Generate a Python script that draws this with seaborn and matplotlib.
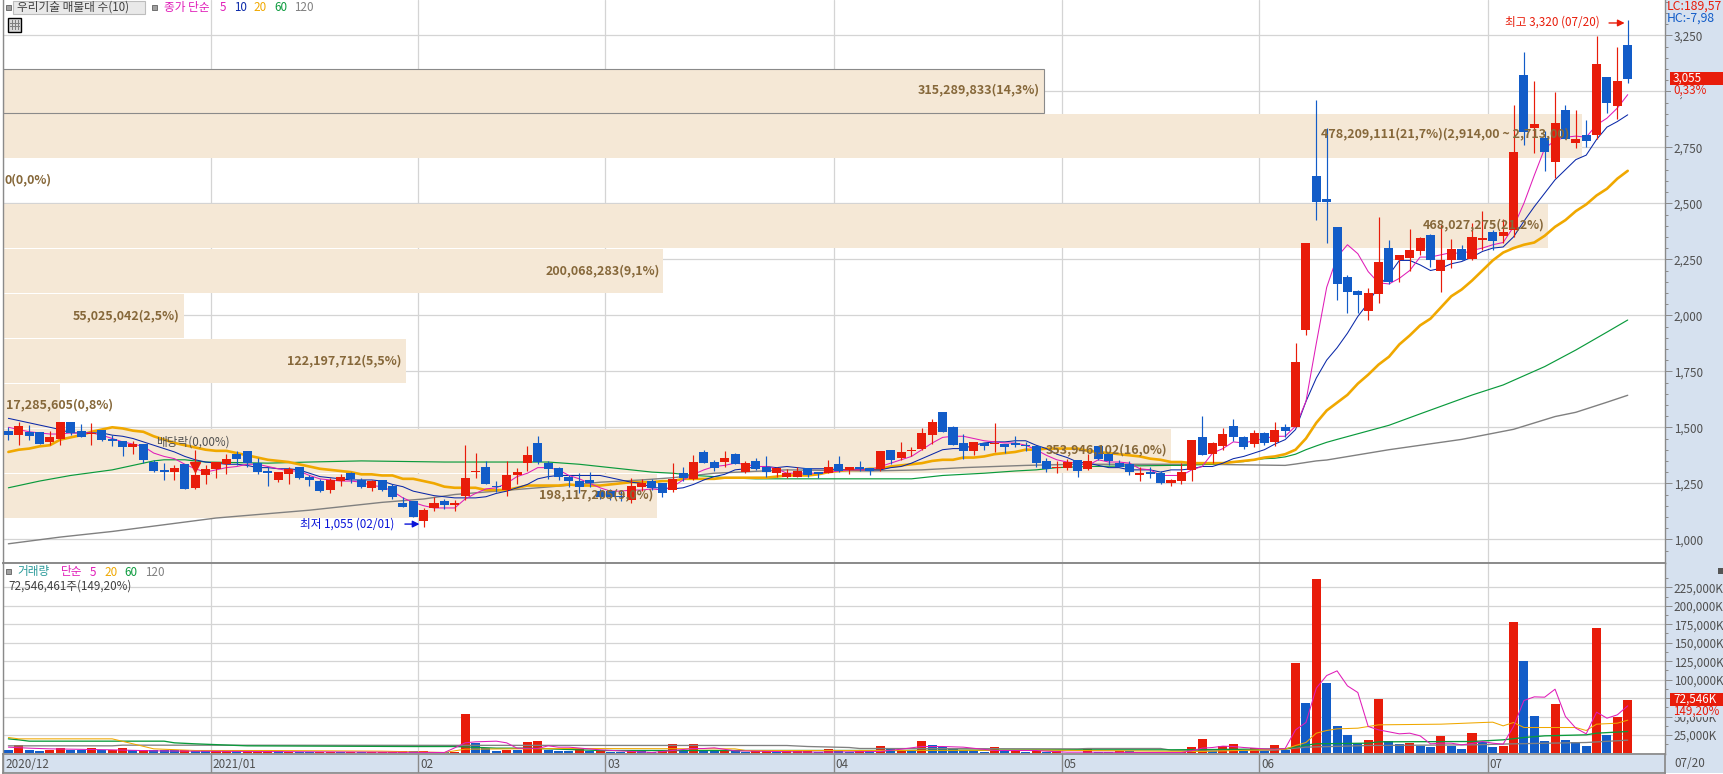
import numpy as np
import matplotlib
matplotlib.use("Agg")
import matplotlib.pyplot as plt
from matplotlib.patches import Rectangle
from matplotlib.transforms import blended_transform_factory
import seaborn as sns

# daily candles, 2020/12 ~ 07/20
open_p = [1485,1465,1480,1480,1435,1450,1525,1485,1470,1490,
          1450,1440,1410,1425,1345,1310,1300,1335,1230,1285,
          1315,1335,1380,1395,1340,1305,1265,1290,1325,1280,
          1260,1220,1260,1295,1265,1230,1265,1240,1160,1170,
          1080,1140,1170,1155,1195,1300,1325,1240,1220,1285,
          1340,1430,1340,1320,1280,1260,1265,1215,1215,1195,
          1175,1235,1260,1250,1220,1295,1270,1390,1345,1345,
          1380,1300,1350,1325,1295,1280,1280,1320,1300,1295,
          1335,1310,1325,1320,1315,1400,1365,1395,1405,1465,
          1570,1500,1430,1395,1430,1425,1425,1430,1420,1415,
          1350,1320,1320,1355,1315,1415,1380,1340,1335,1285,
          1300,1295,1250,1260,1310,1455,1380,1415,1505,1455,
          1425,1475,1435,1500,1500,1935,2620,2520,2395,2170,
          2110,2020,2095,2300,2245,2255,2285,2360,2200,2245,
          2295,2250,2335,2370,2355,2380,3075,2835,2790,2685,
          2915,2770,2805,2805,3065,2935,3205]
high_p = [1500,1525,1510,1480,1485,1525,1525,1515,1520,1490,
          1465,1440,1440,1425,1355,1340,1330,1335,1400,1330,
          1345,1380,1395,1395,1365,1325,1300,1325,1325,1285,
          1270,1275,1290,1300,1275,1265,1265,1245,1190,1170,
          1140,1190,1180,1175,1420,1385,1350,1260,1350,1320,
          1415,1460,1350,1325,1285,1295,1300,1225,1225,1215,
          1275,1270,1270,1250,1340,1325,1375,1400,1355,1395,
          1385,1350,1365,1370,1325,1315,1325,1320,1300,1355,
          1370,1325,1350,1320,1395,1400,1435,1410,1495,1535,
          1570,1505,1470,1435,1430,1520,1425,1460,1435,1415,
          1365,1350,1360,1355,1380,1415,1380,1355,1350,1325,
          1325,1305,1270,1340,1445,1550,1435,1495,1535,1460,
          1490,1480,1525,1515,1875,2325,2960,2835,2395,2180,
          2115,2120,2440,2335,2270,2385,2350,2365,2405,2340,
          2315,2410,2465,2380,2430,2940,3175,3045,2825,2995,
          2940,2915,2870,3245,3065,3200,3320]
low_p = [1445,1420,1445,1425,1420,1420,1465,1455,1420,1440,
         1415,1370,1380,1340,1300,1265,1265,1225,1225,1245,
         1275,1290,1330,1325,1290,1240,1255,1245,1270,1240,
         1210,1205,1240,1250,1230,1215,1215,1180,1145,1100,
         1055,1125,1135,1125,1175,1275,1245,1210,1195,1245,
         1305,1335,1270,1265,1235,1205,1235,1180,1175,1170,
         1160,1215,1220,1190,1210,1260,1265,1340,1305,1325,
         1335,1295,1310,1280,1280,1275,1280,1280,1275,1295,
         1300,1290,1305,1285,1305,1335,1355,1370,1400,1425,
         1480,1420,1360,1375,1400,1390,1385,1410,1395,1325,
         1300,1295,1310,1280,1310,1355,1330,1325,1285,1260,
         1275,1245,1240,1245,1260,1375,1340,1400,1440,1405,
         1410,1420,1415,1455,1500,1910,2425,2325,2070,2010,
         2010,1980,2055,2140,2150,2200,2270,2215,2105,2210,
         2245,2245,2290,2290,2325,2350,2760,2725,2645,2615,
         2785,2745,2750,2785,2905,2875,3035]
close_p = [1465,1505,1460,1425,1455,1525,1475,1455,1475,1445,
           1440,1410,1425,1355,1305,1300,1320,1225,1285,1315,
           1345,1360,1360,1340,1300,1295,1300,1315,1275,1265,
           1215,1265,1280,1270,1235,1260,1220,1190,1145,1100,
           1130,1160,1155,1160,1275,1305,1245,1235,1285,1300,
           1375,1345,1315,1280,1260,1235,1250,1190,1190,1190,
           1240,1250,1230,1205,1270,1275,1345,1340,1320,1365,
           1335,1340,1315,1300,1320,1295,1305,1285,1290,1325,
           1305,1325,1315,1305,1395,1355,1390,1400,1475,1525,
           1480,1420,1395,1435,1415,1430,1410,1420,1415,1340,
           1315,1325,1345,1305,1350,1360,1350,1325,1300,1295,
           1290,1250,1265,1300,1445,1375,1430,1470,1455,1410,
           1475,1430,1490,1485,1790,2325,2505,2505,2140,2105,
           2090,2100,2240,2150,2270,2290,2345,2245,2245,2295,
           2245,2350,2345,2330,2370,2730,2820,2855,2730,2860,
           2785,2785,2780,3120,2950,3045,3055]

ma5 = [1500,1490,1480,1475,1470,1470,1475,1475,1475,1465,
       1450,1435,1425,1415,1385,1370,1360,1335,1315,1300,
       1310,1320,1325,1335,1335,1325,1315,1305,1305,1285,
       1270,1265,1260,1260,1255,1240,1235,1215,1185,1165,
       1150,1140,1140,1140,1180,1205,1225,1230,1250,1280,
       1295,1320,1320,1310,1285,1270,1250,1230,1215,1215,
       1220,1220,1225,1220,1235,1265,1290,1310,1325,1330,
       1340,1335,1325,1325,1315,1295,1295,1295,1295,1300,
       1305,1310,1310,1310,1325,1340,1355,1370,1400,1430,
       1455,1460,1460,1450,1440,1435,1430,1430,1420,1400,
       1375,1355,1345,1340,1330,1355,1345,1345,1340,1315,
       1310,1285,1285,1285,1310,1325,1385,1405,1435,1430,
       1440,1450,1460,1460,1505,1615,1875,2125,2260,2315,
       2275,2195,2145,2140,2165,2200,2260,2260,2270,2280,
       2275,2290,2300,2315,2325,2395,2500,2625,2745,2780,
       2795,2800,2795,2850,2880,2925,2985]
ma10 = [1540,1530,1520,1510,1500,1490,1475,1475,1475,1475,
        1465,1460,1450,1435,1420,1405,1390,1370,1355,1345,
        1340,1335,1335,1330,1320,1320,1315,1315,1310,1295,
        1280,1275,1270,1265,1265,1265,1260,1245,1235,1215,
        1205,1195,1190,1185,1185,1185,1190,1205,1215,1230,
        1245,1270,1280,1285,1285,1285,1285,1285,1275,1265,
        1255,1250,1230,1230,1225,1230,1245,1265,1280,1290,
        1310,1315,1325,1325,1320,1325,1320,1315,1315,1315,
        1310,1310,1310,1310,1310,1320,1325,1340,1360,1380,
        1400,1405,1405,1420,1430,1435,1435,1440,1440,1420,
        1405,1380,1365,1345,1340,1330,1320,1320,1310,1310,
        1310,1300,1310,1310,1315,1325,1325,1340,1360,1370,
        1385,1400,1425,1445,1490,1615,1720,1800,1855,1920,
        1995,2055,2130,2180,2245,2245,2225,2200,2210,2230,
        2240,2260,2285,2300,2305,2350,2420,2485,2545,2605,
        2650,2695,2715,2785,2840,2865,2895]
ma20 = [1390,1400,1405,1415,1420,1445,1455,1465,1480,1490,
        1500,1495,1485,1480,1460,1445,1430,1420,1410,1400,
        1395,1395,1385,1375,1365,1355,1350,1345,1335,1325,
        1315,1310,1305,1300,1290,1290,1285,1285,1270,1270,
        1260,1250,1235,1230,1230,1230,1220,1220,1220,1230,
        1240,1240,1240,1240,1245,1240,1240,1240,1245,1250,
        1255,1255,1255,1260,1260,1270,1270,1270,1270,1275,
        1275,1275,1275,1275,1280,1285,1285,1285,1290,1300,
        1305,1310,1310,1315,1315,1325,1330,1335,1340,1350,
        1355,1355,1365,1365,1370,1380,1385,1390,1400,1400,
        1405,1405,1405,1405,1395,1390,1385,1380,1375,1370,
        1360,1355,1345,1345,1340,1340,1340,1340,1345,1350,
        1355,1365,1370,1380,1400,1450,1520,1575,1610,1645,
        1695,1735,1780,1815,1870,1910,1955,1985,2035,2085,
        2115,2155,2200,2245,2280,2300,2315,2325,2355,2395,
        2425,2465,2495,2535,2565,2610,2645]
ma60_idx = [0,3,6,10,13,14,15,17,19,25,29,34,42,47,51,52,55,58,60,62,64,66,68,69,72,75,79,84,87,90,94,
            97,99,101,104,112,113,116,117,118,119,120,121,122,123,124,125,126,127,128,133,136,141,144,148,151,154,156]
ma60 = [1230,1260,1285,1310,1340,1350,1355,1355,1345,1340,1345,1350,1345,1345,1345,1345,1335,1320,1310,1300,1295,1285,1280,1275,1270,1270,1270,1270,1270,1285,1295,
        1305,1310,1320,1325,1330,1330,1335,1340,1345,1347,1355,1360,1362,1368,1380,1400,1417,1433,1446,1509,1560,1644,1689,1771,1845,1925,1979]
ma120_idx = [0,5,10,20,29,36,40,43,47,51,55,57,61,64,68,75,83,88,92,98,103,109,115,123,124,126,127,133,140,145,149,151,154,156]
ma120 = [980,1010,1035,1095,1130,1165,1180,1200,1215,1230,1245,1255,1265,1275,1295,1310,1305,1310,1320,1330,1335,1335,1335,1330,1336,1350,1354,1400,1446,1491,1548,1567,1612,1643]

# volume in thousand shares
volume = [5410,12180,5410,4060,5410,8120,4510,4510,8120,4510,
          4510,6770,4510,4510,4510,4510,4510,4510,3160,3160,
          3160,3160,3160,3160,4060,4510,3160,2260,2260,2260,
          2260,2260,1800,2260,2260,1800,2260,2260,3160,3160,
          3160,2260,2260,1800,54100,14430,8120,4060,5410,4960,
          15790,17140,4960,3610,3610,5860,3610,2710,2260,2260,
          2710,2710,1800,3160,13080,3610,13080,3610,3610,4960,
          4060,2260,4060,4060,2260,3160,3160,3160,1800,5860,
          3160,2260,3160,3160,10370,6770,4060,4060,17140,11730,
          9470,5860,3610,3610,2260,9020,3610,4060,2260,4060,
          2260,3160,900,900,6770,2260,2260,2710,2710,1800,
          900,1350,1350,2260,9020,19840,2710,10370,13080,4060,
          7220,4060,11730,4960,122670,68550,236320,95610,37430,25260,
          14430,18490,73960,17140,13080,14430,10820,9020,23900,10820,
          6310,27960,15790,9020,10820,178150,125380,50960,17140,67200,
          18490,15790,10370,170030,25260,49610,72546]
vol_flag = list("brbbrrbbrb" "rrbrbbbrbb" "rrbrrrbrbb" "rrbrbrrrrb" "rrbrrbbbrb"
                "rrbbbrbrbb" "rbbrrbrbbr" "bbrrbrrrbr" "bbrbrbrbrb" "bbbbbrbrbr"
                "brbrrbbrbr" "brbrrrbrrb" "rbrbrbrbbb" "brrbbrbbrb" "brbbrrbbbr" "bbbrbrr")
vma5_idx = [0,2,4,10,14,18,42,43,44,45,46,47,48,49,51,52,53,54,57,62,66,67,68,70,78,84,86,88,90,92,95,99,100,102,104,109,113,114,
            115,116,117,118,119,120,121,122,123,124,125,126,127,128,129,130,131,132,133,134,135,136,137,138,139,140,141,142,143,144,145,146,147,148,149,150,151,152,153,154,155,156]
vma5 = [8570,7220,6310,4960,3610,3160,1350,7670,14430,15790,16240,16690,14430,7220,6770,10370,8570,8570,4960,1350,6770,6770,7670,3610,1800,2710,5860,9470,9470,8570,4060,4060,3160,1800,1800,1350,1350,3610,
        7220,8120,9920,9470,8120,7220,6310,5860,6770,32020,41940,88400,105530,111850,91550,82530,36530,32020,29320,26610,27510,23900,13080,13980,13980,11730,13530,16240,13980,12630,36530,71710,76670,76220,87040,50060,34280,26610,55920,47810,52320,64490]
vma20_idx = [0,1,10,12,14,18,25,36,42,44,54,70,71,84,100,111,115,121,123,124,125,126,127,128,130,131,132,138,142,143,144,145,146,151,152,153,155,156]
vma20 = [21650,19840,19840,13080,6310,4060,4060,3160,1350,5860,6770,6310,4060,4060,4510,3160,2710,4960,5860,10820,14880,27510,31120,33370,34280,36530,38790,39690,41940,42390,37430,41940,35180,35180,31120,39690,41040,45100]
vma60_idx = [0,1,2,15,16,18,23,39,43,47,50,55,57,70,85,103,112,116,123,125,126,131,132,141,144,146,148,152,153,156]
vma60 = [19840,18490,16690,16690,14430,13080,10370,9470,9470,7220,7220,4960,4060,4060,4060,4960,4960,5410,6310,11280,13080,13980,15790,16240,18490,21650,23900,25260,27510,29770]
vma120_idx = [0,10,11,75,77,81,82,103,104,111,112,122,125,131,141,145,152,156]
vma120 = [10370,10370,11280,10820,9470,8120,6770,6310,6770,6770,4510,4510,8570,10820,11730,13080,14880,18040]

# price-volume profile, bottom row first
band_low = [1096,1297,1498,1699,1900,2101,2302,2503,2704,2905]
band_value = [198117205,353946102,17285605,122197712,55025042,200068283,468027275,0,478209111,315289833]

month_start = [0,20,40,58,80,102,121,143]
month_label = ["2020/12","2021/01","02","03","04","05","06","07"]
price_major = list(range(1000,3251,250))
vol_major = list(range(25000,225001,25000))

RED = "#e81c0a"
BLUE = "#125cc8"
MAGENTA = "#e01cb8"
NAVY = "#0a28a8"
ORANGE = "#f0a800"
GREEN = "#0a9a3c"
GRAY = "#808080"
BAND = "#f5e8d6"
PANEL = "#d6e1ef"
GRID = "#d4d4d4"
EDGE = "#8a8a8a"
BROWN = "#86683a"

sns.set_theme(style="white")
plt.rcParams["font.family"] = ["Noto Sans CJK KR", "DejaVu Sans"]
plt.rcParams["axes.unicode_minus"] = False

W, H = 1724, 774
fig = plt.figure(figsize=(W/100, H/100), dpi=100, facecolor="white")


def add_axes(left, top, right, bottom):
    return fig.add_axes([left/W, 1-bottom/H, (right-left)/W, (bottom-top)/H])


def ptext(x, y, s, **kw):
    kw.setdefault("fontsize", 8.4)
    kw.setdefault("va", "center")
    fig.text(x/W, 1-y/H, s, **kw)


def prect(x0, y0, x1, y1, **kw):
    fig.add_artist(Rectangle((x0/W, 1-y1/H), (x1-x0)/W, (y1-y0)/H, transform=fig.transFigure, **kw))


prect(1665.5, 0, W, 773.3, fc=PANEL, ec="none", zorder=-1)

ax = add_axes(2.7, 0, 1665.5, 563.3)
vax = add_axes(2.7, 563.3, 1665.5, 754.3)
sax = add_axes(2.7, 754.3, 1665.5, 773.3)
idx = np.arange(len(close_p))
month_x = [m-0.5 for m in month_start]
xlim = (-0.549, 159.64)

# profile bars lie over the grid, under candles
trans = blended_transform_factory(ax.transAxes, ax.transData)
for low, val in zip(band_low, band_value):
    edge = EDGE if val == 315289833 else "none"
    ax.barh(low+98, val/503.6e6, height=196, color=BAND, edgecolor=edge, linewidth=0.8, transform=trans, zorder=1)

for vals, xs, col, lw in [(ma120, ma120_idx, GRAY, 1.0), (ma60, ma60_idx, GREEN, 0.85),
                          (ma20, idx, ORANGE, 1.9), (ma10, idx, NAVY, 0.75), (ma5, idx, MAGENTA, 0.75)]:
    sns.lineplot(x=xs, y=vals, color=col, linewidth=lw, estimator=None, legend=False, ax=ax, zorder=2)

colors = [RED if c >= o else BLUE for o, c in zip(open_p, close_p)]
ax.vlines(idx, low_p, high_p, colors=colors, linewidth=0.85, zorder=3)
tops = np.maximum(open_p, close_p)
bots = np.minimum(open_p, close_p)
ax.bar(idx, tops-bots, bottom=bots, width=0.87, color=colors, linewidth=0, antialiased=False, zorder=3.1)
ax.plot([18], [1325], marker="v", ms=7, color=RED, mec=RED, ls="none", zorder=3.2)

ax.set_xlim(xlim)
ax.set_ylim(892.9, 3407.6)
ax.set_xticks(month_x)
ax.set_yticks(price_major)
ax.set_yticks(np.arange(950, 3401, 50), minor=True)
ax.set_yticklabels([f"{p:,}" for p in price_major])
ax.set_xticklabels([])
ax.set_xlabel("")
ax.set_ylabel("")

sns.barplot(x=idx, y=volume, hue=vol_flag, palette={"r": RED, "b": BLUE}, native_scale=True, width=0.87,
            dodge=False, saturation=1, legend=False, linewidth=0, ax=vax)
for vals, xs, col, lw in [(vma120, vma120_idx, GRAY, 0.95), (vma60, vma60_idx, GREEN, 0.95),
                          (vma20, vma20_idx, ORANGE, 0.75), (vma5, vma5_idx, MAGENTA, 0.75)]:
    sns.lineplot(x=xs, y=vals, color=col, linewidth=lw, estimator=None, legend=False, ax=vax, zorder=2)
vax.set_xlim(xlim)
vax.set_ylim(-1083, 257440)
vax.set_xticks(month_x)
vax.set_xticklabels([])
vax.set_yticks(vol_major)
vax.set_yticks(np.arange(12500, 240000, 25000), minor=True)
vax.set_yticklabels([f"{v:,}K" for v in vol_major])
vax.set_xlabel("")
vax.set_ylabel("")

for a in (ax, vax):
    a.yaxis.tick_right()
    a.set_axisbelow(True)
    a.grid(True, which="major", color=GRID, linewidth=0.9)
    a.tick_params(axis="x", length=0)
    a.tick_params(axis="y", which="major", length=5, width=0.7, color=EDGE, labelsize=8.4, labelcolor="#505050", pad=0.8)
    a.tick_params(axis="y", which="minor", length=2.4, width=0.7, color=EDGE)
    for side in a.spines:
        a.spines[side].set_color(EDGE)
        a.spines[side].set_linewidth(1.0)
ax.spines["top"].set_visible(False)
vax.spines["top"].set_linewidth(1.4)

sax.set_facecolor(PANEL)
sax.set_xlim(xlim)
sax.set_ylim(0, 1)
sax.set_xticks(month_x)
sax.set_xticklabels([])
sax.set_yticks([])
sax.tick_params(axis="x", length=0)
sax.grid(True, axis="x", color=EDGE, linewidth=1.0)
for side in sax.spines:
    sax.spines[side].set_color(EDGE)
for m, lab in zip(month_x, month_label):
    sax.text(m+0.18, 0.48, lab, fontsize=8.4, color="#505050", va="center", ha="left")
ptext(1674, 763.5, "07/20", color="#505050")
prect(1718, 568, 1724, 574, fc="#555555", ec="none", zorder=2)

# top legend
prect(6, 5, 11, 10, fc="#a0a0a0", ec="#707070", linewidth=0.7, zorder=3)
prect(13.5, 1, 145, 14, fc="#e9e9e9", ec="#bdbdbd", linewidth=0.8, zorder=3)
ptext(17, 7.5, "우리기술 매물대 수(10)", color="#404040", zorder=4)
prect(152, 5, 157, 10, fc="#a0a0a0", ec="#707070", linewidth=0.7, zorder=3)
ptext(164, 7.5, "종가 단순", color=MAGENTA)
for x, lab, col in [(220, "5", MAGENTA), (234, "10", NAVY), (253, "20", ORANGE), (274, "60", GREEN), (294, "120", GRAY)]:
    ptext(x, 7.5, lab, color=col)
prect(8, 18, 21.5, 31.5, fc="#d8d8d8", ec="black", linewidth=1.0, zorder=3)
for gx in (12, 15.5, 18.5):
    prect(gx, 20, gx+0.7, 30, fc="#808080", ec="none", zorder=4)
for gy in (23, 26.5):
    prect(10, gy, 20, gy+0.7, fc="#808080", ec="none", zorder=4)

# volume legend
prect(6, 569, 11, 574, fc="#a0a0a0", ec="#707070", linewidth=0.7, zorder=3)
ptext(17, 572, "거래량", color="#2a9a9a")
ptext(61, 572, "단순", color=MAGENTA)
for x, lab, col in [(90, "5", MAGENTA), (104, "20", ORANGE), (124, "60", GREEN), (145, "120", GRAY)]:
    ptext(x, 572, lab, color=col)
ptext(8.4, 586, "72,546,461주(149,20%)", color="#404040")

# profile labels
label_kw = dict(color=BROWN, fontweight="bold", fontsize=9.0)
ptext(1040, 90, "315,289,833(14,3%)", ha="right", **label_kw)
ptext(1321, 134, "478,209,111(21,7%)(2,914,00 ~ 2,713,00)", **label_kw)
ptext(5, 180, "0(0,0%)", **label_kw)
ptext(1545, 225, "468,027,275(21,2%)", ha="right", **label_kw)
ptext(660, 271, "200,068,283(9,1%)", ha="right", **label_kw)
ptext(180, 316, "55,025,042(2,5%)", ha="right", **label_kw)
ptext(402, 361, "122,197,712(5,5%)", ha="right", **label_kw)
ptext(6, 405, "17,285,605(0,8%)", **label_kw)
ptext(1167, 450, "353,946,102(16,0%)", ha="right", **label_kw)
ptext(653, 495, "198,117,205(9,0%)", ha="right", **label_kw)
ptext(156, 442.5, "배당락(0,00%)", color="#505050")

# high / low notes
ptext(300, 524, "최저 1,055 (02/01)", color="#0a14d8")
ax.annotate("", xy=(39.6, 1068), xytext=(38.2, 1068), arrowprops=dict(arrowstyle="-|>", color="#0a14d8", lw=1, mutation_scale=10, shrinkA=0, shrinkB=0))
ptext(1505, 22.5, "최고 3,320 (07/20)", color=RED)
ax.annotate("", xy=(155.7, 3305), xytext=(154.2, 3305), arrowprops=dict(arrowstyle="-|>", color=RED, lw=1, mutation_scale=10, shrinkA=0, shrinkB=0))

# right side read-outs, drawn over the axis labels they sit on
ptext(1667, 6, "LC:189,57", color=RED, fontsize=8.8)
ptext(1667, 18, "HC:-7,98", color=BLUE, fontsize=8.8)
prect(1671, 85, W, 97, fc=PANEL, ec="none", zorder=2)
prect(1670, 72, W, 85, fc=RED, ec="none", zorder=2)
ptext(1673, 78.5, "3,055", color="white")
ptext(1673, 90.5, "0,33%", color=RED)
prect(1671, 706, W, 717, fc=PANEL, ec="none", zorder=2)
prect(1670, 693, W, 706, fc=RED, ec="none", zorder=2)
ptext(1673, 699.5, "72,546K", color="white")
ptext(1673, 711.5, "149,20%", color=RED)

fig.savefig("out.png", dpi=100)
